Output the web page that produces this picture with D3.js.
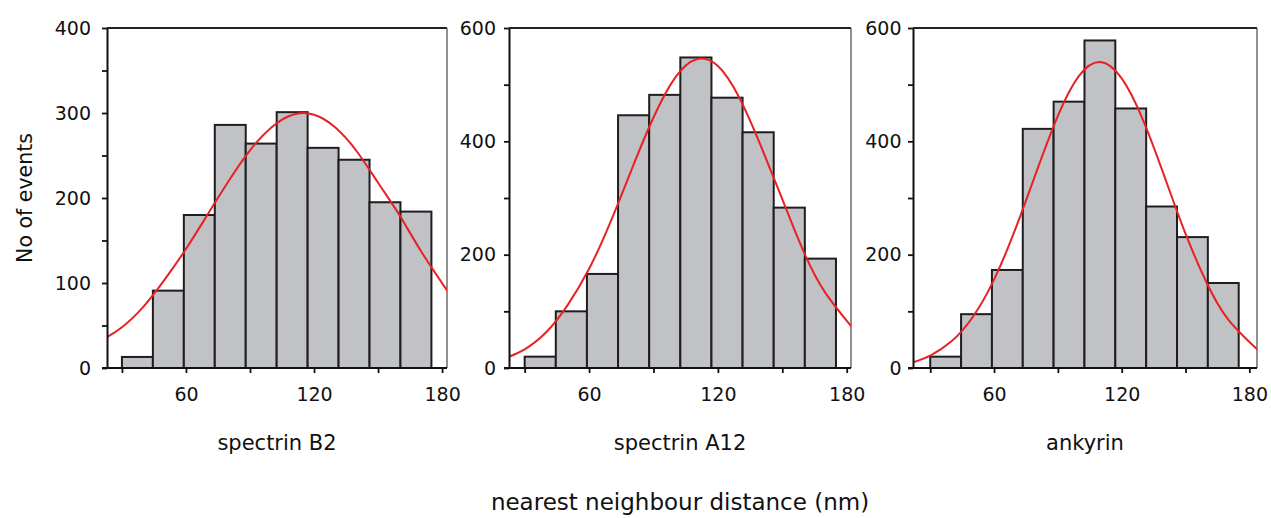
<!DOCTYPE html>
<html>
<head>
<meta charset="utf-8">
<script src="https://cdn.jsdelivr.net/npm/d3@7/dist/d3.min.js"></script>
<style>
  body { margin: 0; background: #fff; }
  text { font-family: "DejaVu Sans", sans-serif; fill: #111; }
</style>
</head>
<body>
<script>
// ------------------------- data -------------------------
let binEdges  = [30, 44.5, 59, 73.5, 88, 102.5, 117, 131.5, 146, 160.5, 175];

let countsB2  = [13, 91, 180, 286, 264, 301, 259, 245, 195, 184];
let countsA12 = [20, 100, 166, 446, 482, 548, 477, 416, 283, 193];
let countsAnk = [20, 95, 173, 422, 470, 578, 458, 285, 231, 150];

// fitted curve (red)
let fitX      = [22, 30, 40, 50, 60, 70, 80, 90, 100, 110, 120, 130, 140, 150, 160, 170, 184];
let fitB2     = [35, 48, 72, 104, 140, 180, 220, 256, 283, 298, 298, 283, 255, 218, 180, 138, 85];
let fitA12    = [19, 33, 63, 111, 175, 258, 352, 442, 512, 545, 533, 477, 392, 298, 205, 133, 65];
let fitAnk    = [10, 22, 47, 90, 156, 245, 347, 445, 516, 540, 511, 438, 339, 237, 150, 86, 32];

let panelNames = ["spectrin B2", "spectrin A12", "ankyrin"];
let yMax       = [400, 600, 600];
let yMajor     = [100, 200, 200];
let xTicks     = [30, 60, 90, 120, 150, 180];
let xLabeled   = [60, 120, 180];

let W = 1271, H = 518;

// pixel boxes of the three plots
let panels = [
  {left: 107, right: 447,  dom: [23, 182.3],   pad: 11,  counts: countsB2,  fit: fitB2},
  {left: 509, right: 851,  dom: [22.7, 182],   pad: 8,   counts: countsA12, fit: fitA12},
  {left: 913, right: 1257, dom: [21.9, 183.6], pad: 6.5, counts: countsAnk, fit: fitAnk}
];
let plotTop = 28, plotBottom = 368;

let svg = d3.select("body")
    .append("svg")
    .attr("width", W)
    .attr("height", H);

panels.forEach((p, k) => {
  let x = d3.scaleLinear().domain(p.dom).range([p.left, p.right]);
  let y = d3.scaleLinear().domain([0, yMax[k]]).range([plotBottom, plotTop]);

  let g = svg.append("g");

  // frame top + right
  g.append("line")
      .attr("x1", p.left).attr("x2", p.right)
      .attr("y1", plotTop).attr("y2", plotTop)
      .attr("stroke", "#222").attr("stroke-width", 2);
  g.append("line")
      .attr("x1", p.right).attr("x2", p.right)
      .attr("y1", plotTop).attr("y2", plotBottom)
      .attr("stroke", "#555").attr("stroke-width", 1.3);

  // bars
  g.selectAll("rect")
      .data(p.counts)
      .enter()
      .append("rect")
          .attr("x", (d, i) => x(binEdges[i]))
          .attr("y", d => y(d))
          .attr("width", (d, i) => x(binEdges[i + 1]) - x(binEdges[i]))
          .attr("height", d => plotBottom - y(d))
          .attr("fill", "#c0c2c6")
          .attr("stroke", "#1e1e1e")
          .attr("stroke-width", 2);

  // fitted curve, clipped to the plot box
  let clipId = "clip" + k;
  svg.append("clipPath").attr("id", clipId)
    .append("rect")
      .attr("x", p.left).attr("y", plotTop)
      .attr("width", p.right - p.left).attr("height", plotBottom - plotTop);

  let line = d3.line()
      .x((d, i) => x(fitX[i]))
      .y(d => y(d))
      .curve(d3.curveNatural);

  g.append("path")
      .datum(p.fit)
      .attr("clip-path", `url(#${clipId})`)
      .attr("d", line)
      .attr("fill", "none")
      .attr("stroke", "#e82124")
      .attr("stroke-width", 2);

  // y axis: minor ticks every half major step
  let yAxis = d3.axisLeft(y)
      .tickValues(d3.range(0, yMax[k] + 1, yMajor[k] / 2))
      .tickFormat(d => d % yMajor[k] === 0 ? d : "")
      .tickSize(5)
      .tickPadding(p.pad)
      .tickSizeOuter(0);

  let ya = g.append("g")
      .attr("transform", `translate(${p.left},0)`)
      .call(yAxis);

  // x axis
  let xAxis = d3.axisBottom(x)
      .tickValues(xTicks)
      .tickFormat(d => xLabeled.includes(d) ? d : "")
      .tickSize(5)
      .tickPadding(15)
      .tickSizeOuter(0);

  let xa = g.append("g")
      .attr("transform", `translate(0,${plotBottom})`)
      .call(xAxis);

  [ya, xa].forEach(a => {
    a.select(".domain").attr("stroke", "#111").attr("stroke-width", 2);
    a.selectAll(".tick line").attr("stroke", "#111").attr("stroke-width", 1.8);
    a.selectAll(".tick text")
        .attr("font-size", "19px")
        .attr("font-family", "DejaVu Sans, sans-serif")
        .attr("fill", "#111");
  });
  // x axis line reaches a bit left of the y axis
  xa.select(".domain").attr("d", `M${p.left - 5},0H${p.right}`);

  // panel name
  g.append("text")
      .text(panelNames[k])
      .attr("x", (p.left + p.right) / 2)
      .attr("y", 450)
      .attr("font-size", "21px")
      .attr("text-anchor", "middle");
});

// shared labels
svg.append("text")
    .text("No of events")
    .attr("transform", "translate(32,198) rotate(-90)")
    .attr("font-size", "20.5px")
    .attr("text-anchor", "middle");

svg.append("text")
    .text("nearest neighbour distance (nm)")
    .attr("x", 680)
    .attr("y", 510)
    .attr("font-size", "23px")
    .attr("text-anchor", "middle");
</script>
</body>
</html>
